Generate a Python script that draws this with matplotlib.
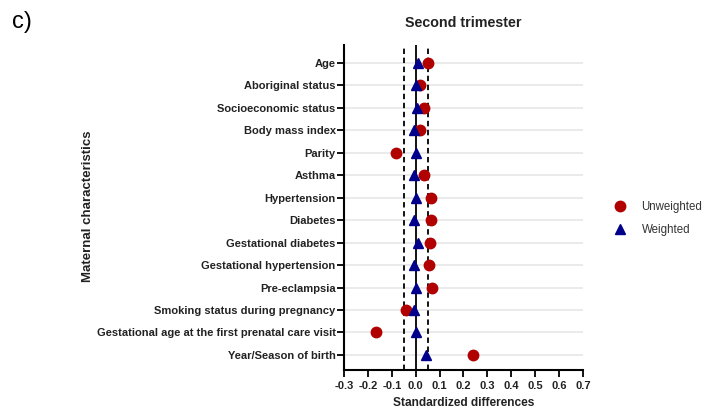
import matplotlib
matplotlib.use("Agg")
import matplotlib.pyplot as plt
from matplotlib.lines import Line2D

plt.rcParams['font.family'] = ['Liberation Sans', 'DejaVu Sans']

categories = ["Age", "Aboriginal status", "Socioeconomic status", "Body mass index",
              "Parity", "Asthma", "Hypertension", "Diabetes", "Gestational diabetes",
              "Gestational hypertension", "Pre-eclampsia", "Smoking status during pregnancy",
              "Gestational age at the first prenatal care visit", "Year/Season of birth"]
unweighted = [0.05, 0.02, 0.036, 0.017, -0.083, 0.035, 0.065, 0.065, 0.06, 0.055,
              0.07, -0.039, -0.164, 0.239]
weighted = [0.01, 0.003, 0.006, -0.008, 0.0, -0.005, 0.0, -0.005, 0.01, -0.006,
            0.002, -0.006, 0.0, 0.045]
xticks = [-0.3, -0.2, -0.1, 0.0, 0.1, 0.2, 0.3, 0.4, 0.5, 0.6, 0.7]
xtick_labels = ["-0.3", "-0.2", "-0.1", "0.0", "0.1", "0.2", "0.3", "0.4", "0.5", "0.6", "0.7"]

fig = plt.figure(figsize=(7.04, 4.09), dpi=100)
ax = fig.add_axes([0.4886, 0.0954, 0.3395, 0.7946])

ypos = list(range(len(categories)))
for y in ypos:
    ax.axhline(y, color='#e6e6e6', lw=1.2, zorder=0)

ax.axvline(0, color='black', lw=1.3, zorder=1)
ax.axvline(-0.05, color='black', lw=1.3, ls=(0, (3, 2)), zorder=1)
ax.axvline(0.05, color='black', lw=1.3, ls=(0, (3, 2)), zorder=1)

ax.plot(unweighted, ypos, 'o', color='#b00000', ms=7.5, ls='none', zorder=3, label='Unweighted')
ax.plot(weighted, ypos, '^', color='#00008b', ms=7.2, ls='none', zorder=4, label='Weighted')

ax.set_xlim(-0.3, 0.7)
ax.set_ylim(13.67, -0.8)
ax.set_yticks(ypos)
ax.set_yticklabels(categories, fontsize=8, fontweight='bold', color='#222222')
ax.set_xticks(xticks)
ax.set_xticklabels(xtick_labels, fontsize=8, fontweight='bold', color='#222222')

for s in ['top', 'right']:
    ax.spines[s].set_visible(False)
for s in ['left', 'bottom']:
    ax.spines[s].set_linewidth(1.5)
ax.tick_params(axis='both', direction='out', width=1.3, length=5, colors='black')
ax.tick_params(axis='y', pad=1, labelcolor='#222222')
ax.tick_params(axis='x', pad=3, labelcolor='#222222')

ax.set_title("Second trimester", fontsize=10.3, fontweight='bold', pad=13, color='#222222')
ax.set_xlabel("Standardized differences", fontsize=8.6, fontweight='bold', labelpad=4,
              color='#222222')
fig.text(0.125, 0.495, "Maternal characteristics", rotation=90, fontsize=9.5,
         fontweight='bold', ha='center', va='center', color='#222222')

fig.text(0.017, 0.945, "c)", fontsize=17, ha='left', va='center')

handles = [Line2D([], [], marker='o', color='#b00000', ls='none', ms=7.5),
           Line2D([], [], marker='^', color='#00008b', ls='none', ms=7.2)]
fig.legend(handles, ['Unweighted', 'Weighted'], loc='center left',
           bbox_to_anchor=(0.849, 0.466), frameon=False, fontsize=8.3,
           handletextpad=0.9, labelspacing=1.0, labelcolor='#333333')

fig.savefig("out.png", dpi=100)
